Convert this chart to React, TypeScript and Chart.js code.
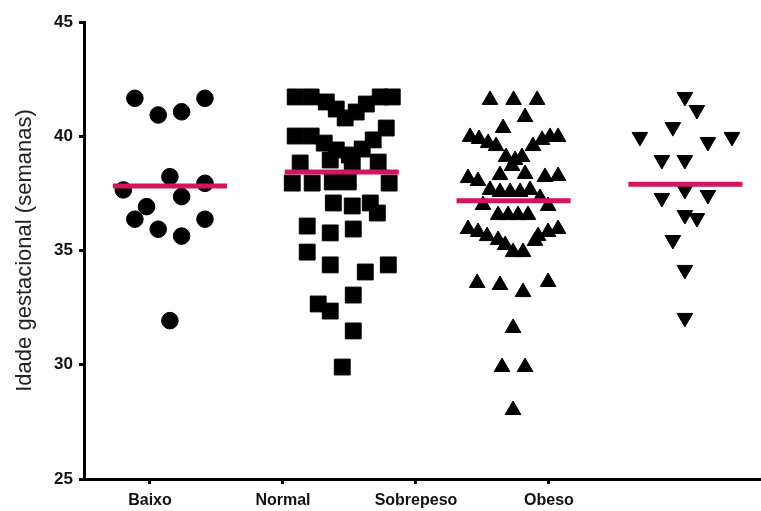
import React, { useEffect, useRef } from "react";
import { Chart, registerables } from "chart.js";

Chart.register(...registerables);

// ---- data ----
const categories = ["Baixo", "Normal", "Sobrepeso", "Obeso"];
// x-axis tick positions (as drawn in the reference, offset from the data groups)
const tickPositions = [0.884, 1.658, 2.432, 3.206];
const yTicks = [25, 30, 35, 40, 45];

const baixoValues = [41.66, 40.93, 41.07, 41.66, 38.23, 37.65, 37.94, 37.36, 36.92, 36.37, 36.37, 35.93, 35.63, 31.93];
const baixoJitter = [-0.204, -0.068, 0.068, 0.204, 0, -0.271, 0.204, 0.068, -0.136, -0.204, 0.204, -0.068, 0.068, 0];

const normalValues = [
  41.72, 41.72, 41.5, 41.19, 40.8, 41.06, 41.41, 41.72, 41.72,
  40.01, 40.01, 39.7, 39.4, 39.18, 39.44, 39.84, 40.36,
  38.83, 38.96, 38.83, 38.87,
  37.95, 37.95, 38.0, 38.0, 37.95,
  37.08, 36.95, 37.08, 36.64, 36.07, 35.77, 35.94, 34.93, 34.37, 34.06, 34.37,
  33.05, 32.66, 32.35, 31.48, 29.9,
];
const normalJitter = [
  -0.271, -0.178, -0.09, -0.032, 0.02, 0.084, 0.143, 0.224, 0.294,
  -0.271, -0.178, -0.102, -0.032, 0.044, 0.119, 0.183, 0.259,
  -0.242, -0.067, 0.061, 0.212,
  -0.288, -0.172, -0.055, 0.038, 0.276,
  -0.049, 0.061, 0.166, 0.207, -0.201, -0.067, 0.067, -0.201, -0.067, 0.137, 0.271,
  0.067, -0.137, -0.067, 0.067, 0.003,
];

const sobrepesoValues = [
  41.59, 41.59, 41.59, 40.84, 40.36,
  39.97, 39.88, 39.7, 39.57, 39.57, 39.84, 39.97, 39.97,
  39.09, 38.96, 39.09, 38.7,
  38.17, 38.04, 38.3, 38.35, 38.22, 38.26,
  37.65, 37.56, 37.56, 37.56, 37.65, 36.99, 37.3, 36.95,
  36.55, 36.55, 36.55, 36.55,
  35.94, 35.81, 35.63, 35.63, 35.81, 35.94, 35.46, 35.24, 35.42, 34.93, 34.93,
  33.58, 33.49, 33.18, 33.62, 31.61, 29.9, 29.9, 28.02,
];
const sobrepesoJitter = [
  -0.137, 0, 0.137, 0.067, -0.061,
  -0.253, -0.201, -0.148, -0.102, 0.113, 0.166, 0.212, 0.259,
  -0.044, 0.009, 0.049, -0.009,
  -0.265, -0.207, -0.079, 0.067, 0.183, 0.259,
  -0.137, -0.079, -0.02, 0.038, 0.096, -0.178, 0.154, 0.201,
  -0.09, -0.032, 0.026, 0.084,
  -0.265, -0.207, -0.154, 0.143, 0.201, 0.259, -0.09, -0.049, 0.125, -0.003, 0.055,
  -0.212, -0.079, 0.055, 0.201, -0.003, -0.067, 0.067, -0.003,
];

const obesoValues = [41.72, 41.15, 40.4, 39.97, 39.75, 39.97, 38.96, 38.96, 37.65, 37.3, 37.43, 36.55, 36.42, 35.46, 34.15, 32.05];
const obesoJitter = [-0.003, 0.067, -0.073, -0.265, 0.131, 0.271, -0.137, -0.003, -0.003, -0.137, 0.131, -0.003, 0.067, -0.073, -0.003, -0.003];

const means = [37.82, 38.44, 37.18, 37.9];

const groups = [
  { values: baixoValues, jitter: baixoJitter, style: "circle", radius: 8.3, rotation: 0 },
  { values: normalValues, jitter: normalJitter, style: "rect", radius: 11.2, rotation: 0 },
  { values: sobrepesoValues, jitter: sobrepesoJitter, style: "triangle", radius: 9, rotation: 0 },
  { values: obesoValues, jitter: obesoJitter, style: "triangle", radius: 9, rotation: 180 },
];

const MEAN_HALF = 0.332;
const FONT = "'Liberation Sans', Arial, Helvetica, sans-serif";

export default function App() {
  const ref = useRef<HTMLCanvasElement | null>(null);

  useEffect(() => {
    if (!ref.current) return;
    const datasets: any[] = [];
    groups.forEach((g, gi) => {
      datasets.push({
        type: "scatter",
        label: categories[gi],
        data: g.values.map((v, i) => ({ x: gi + 1 + g.jitter[i], y: v })),
        pointStyle: g.style,
        pointRadius: g.radius,
        pointRotation: g.rotation,
        pointBackgroundColor: "#000",
        pointBorderColor: "#000",
        pointBorderWidth: 1,
        showLine: false,
        order: 2,
        clip: false,
      });
    });
    means.forEach((m, gi) => {
      datasets.push({
        type: "line",
        label: "mean " + categories[gi],
        data: [
          { x: gi + 1 - MEAN_HALF, y: m },
          { x: gi + 1 + MEAN_HALF, y: m },
        ],
        borderColor: "#d4145f",
        borderWidth: 5,
        pointRadius: 0,
        borderCapStyle: "butt",
        order: 1,
        clip: false,
      });
    });

    const chart = new Chart(ref.current, {
      type: "scatter",
      data: { datasets },
      options: {
        animation: false,
        responsive: false,
        devicePixelRatio: 1,
        layout: { autoPadding: false, padding: { top: 22, right: 0, left: 0, bottom: 0 } },
        plugins: { legend: { display: false }, tooltip: { enabled: false } },
        scales: {
          x: {
            type: "linear",
            min: 0.5,
            max: 4.44,
            afterBuildTicks: (scale: any) => {
              scale.ticks = tickPositions.map((v) => ({ value: v }));
            },
            afterFit: (scale: any) => {
              scale.height = 32;
              scale.paddingLeft = 0;
              scale.paddingRight = 0;
            },
            ticks: {
              autoSkip: false,
              maxRotation: 0,
              padding: 7,
              color: "#111",
              font: { family: FONT, size: 16, weight: "bold" },
              callback: (_v: any, i: number) => categories[i],
            },
            grid: {
              drawOnChartArea: false,
              drawTicks: true,
              tickLength: 5,
              tickWidth: 3,
              tickColor: "#000",
            },
            border: { display: true, width: 3, color: "#000" },
          },
          y: {
            type: "linear",
            min: 25,
            max: 45,
            afterBuildTicks: (scale: any) => {
              scale.ticks = yTicks.map((v) => ({ value: v }));
            },
            afterFit: (scale: any) => {
              scale.width = 84;
            },
            ticks: {
              padding: 6,
              color: "#111",
              font: { family: FONT, size: 17, weight: "bold" },
            },
            grid: {
              drawOnChartArea: false,
              drawTicks: true,
              tickLength: 5,
              tickWidth: 3,
              tickColor: "#000",
            },
            border: { display: true, width: 3, color: "#000" },
            title: {
              display: true,
              text: "Idade gestacional (semanas)",
              color: "#222",
              font: { family: FONT, size: 22, weight: "normal" },
              padding: { top: 12, bottom: 0 },
            },
          },
        },
      },
    });
    return () => chart.destroy();
  }, []);

  return (
    <div style={{ position: "fixed", left: 0, top: 0, width: 761, height: 511, background: "#fff" }}>
      <canvas ref={ref} width={761} height={511} style={{ display: "block" }} />
    </div>
  );
}
